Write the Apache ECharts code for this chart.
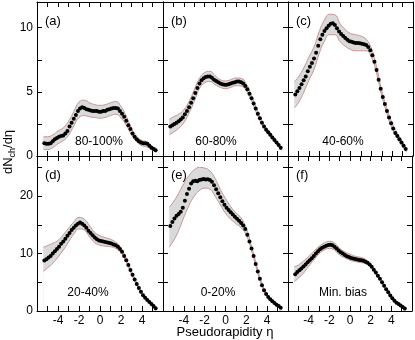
<!DOCTYPE html>
<html>
<head>
<meta charset="utf-8">
<script src="https://cdn.jsdelivr.net/npm/echarts@6/dist/echarts.min.js"></script>
<style>
  html, body { margin: 0; padding: 0; background: #fff; }
  #chart { width: 415px; height: 340px; }
</style>
</head>
<body>
<div id="chart"></div>
<script>
// pseudorapidity of the measured points
const eta = [-5.3, -5.1, -4.9, -4.7, -4.5, -4.3, -4.1, -3.9, -3.7, -3.5, -3.3, -3.1, -2.9, -2.7, -2.5, -2.3, -2.1, -1.9,
  -1.7, -1.5, -1.3, -1.1, -0.9, -0.7, -0.5, -0.3, -0.1, 0.1, 0.3, 0.5, 0.7, 0.9, 1.1, 1.3, 1.5, 1.7, 1.9,
  2.1, 2.3, 2.5, 2.7, 2.9, 3.1, 3.3, 3.5, 3.7, 3.9, 4.1, 4.3, 4.5, 4.7, 4.9, 5.1, 5.3];

// dNch/deta per centrality class
const dnA = [1.0, 0.95, 0.95, 1.0, 1.15, 1.3, 1.4, 1.5, 1.55, 1.6, 1.75, 1.95, 2.3, 2.6, 2.9, 3.2, 3.5, 3.7,
  3.8, 3.75, 3.65, 3.6, 3.55, 3.5, 3.5, 3.5, 3.45, 3.45, 3.5, 3.5, 3.6, 3.65, 3.7, 3.75, 3.75, 3.7, 3.5,
  3.3, 3.05, 2.75, 2.4, 2.1, 1.75, 1.5, 1.3, 1.15, 1.05, 1.0, 1.0, 0.95, 0.8, 0.65, 0.55, 0.45];
const dnB = [2.3, 2.4, 2.5, 2.6, 2.7, 2.85, 3.0, 3.25, 3.5, 3.8, 4.15, 4.5, 4.9, 5.3, 5.65, 5.9, 6.05, 6.15,
  6.2, 6.2, 6.1, 5.95, 5.85, 5.75, 5.65, 5.6, 5.55, 5.55, 5.6, 5.65, 5.7, 5.75, 5.8, 5.8, 5.75, 5.65, 5.45,
  5.2, 4.85, 4.5, 4.1, 3.7, 3.3, 2.95, 2.6, 2.3, 2.05, 1.85, 1.65, 1.45, 1.25, 1.05, 0.85, 0.65];
const dnC = [4.8, 5.05, 5.3, 5.6, 5.9, 6.2, 6.6, 6.95, 7.25, 7.6, 8.05, 8.6, 9.1, 9.45, 9.75, 9.95, 10.15, 10.3,
  10.35, 10.2, 9.95, 9.7, 9.5, 9.35, 9.2, 9.05, 8.95, 8.9, 8.85, 8.8, 8.8, 8.78, 8.75, 8.7, 8.65, 8.5, 8.25,
  7.85, 7.35, 6.7, 5.95, 5.25, 4.6, 4.05, 3.5, 3.0, 2.55, 2.15, 1.8, 1.55, 1.3, 1.05, 0.8, 0.55];
const dnD = [8.8, 9.0, 9.3, 9.6, 10.0, 10.4, 10.8, 11.2, 11.7, 12.1, 12.6, 13.1, 13.6, 14.1, 14.5, 14.9, 15.2, 15.4,
  15.2, 14.9, 14.5, 14.0, 13.6, 13.2, 12.8, 12.5, 12.3, 12.2, 12.1, 12.0, 11.95, 11.85, 11.75, 11.6, 11.45, 11.2, 10.8,
  10.3, 9.6, 8.85, 8.0, 7.15, 6.3, 5.5, 4.7, 4.0, 3.35, 2.75, 2.3, 1.9, 1.55, 1.2, 0.85, 0.5];
const dnE = [14.8, 15.5, 16.1, 16.6, 16.9, 17.3, 18.0, 19.2, 20.4, 21.3, 22.2, 22.6, 22.7, 22.6, 22.8, 22.9, 23.0, 22.9,
  22.95, 22.8, 22.5, 21.9, 21.2, 20.5, 19.8, 19.1, 18.5, 18.0, 17.6, 17.2, 16.8, 16.4, 16.05, 15.7, 15.35, 14.9, 14.3,
  13.3, 12.1, 10.9, 9.6, 8.2, 6.9, 5.6, 4.5, 3.6, 2.95, 2.45, 2.05, 1.7, 1.4, 1.1, 0.85, 0.55];
const dnF = [6.4, 6.8, 7.1, 7.4, 7.75, 8.1, 8.5, 8.85, 9.2, 9.6, 10.0, 10.4, 10.75, 11.0, 11.2, 11.35, 11.5, 11.55,
  11.45, 11.2, 10.9, 10.55, 10.25, 10.0, 9.75, 9.55, 9.4, 9.25, 9.15, 9.05, 8.95, 8.9, 8.85, 8.75, 8.6, 8.4, 8.1,
  7.7, 7.2, 6.7, 6.15, 5.6, 5.0, 4.4, 3.8, 3.25, 2.7, 2.2, 1.8, 1.45, 1.2, 0.95, 0.7, 0.45];

// systematic error band (lower / upper edge)
const bandEta = [-5.4, -5, -4.5, -4, -3.5, -3, -2.5, -2, -1.5, -1, -0.5, 0, 0.5, 1, 1.5, 2, 2.5, 3, 3.5, 4, 4.5, 5, 5.4];
const loA = [0.5, 0.5, 0.65, 0.95, 1.2, 1.6, 2.35, 3.0, 3.15, 3.05, 3.0, 2.95, 3.0, 3.15, 3.25, 2.95, 2.4, 1.65, 1.1, 0.8, 0.7, 0.45, 0.3];
const hiA = [1.5, 1.5, 1.65, 1.95, 2.2, 2.7, 3.45, 4.2, 4.35, 4.15, 4.0, 3.95, 4.0, 4.15, 4.25, 3.85, 3.1, 2.15, 1.5, 1.2, 1.1, 0.75, 0.6];
const loB = [1.65, 1.85, 2.15, 2.6, 3.35, 4.25, 5.25, 5.7, 5.8, 5.55, 5.35, 5.25, 5.35, 5.48, 5.45, 5.1, 4.3, 3.3, 2.45, 1.8, 1.3, 0.83, 0.43];
const hiB = [2.85, 3.05, 3.25, 3.6, 4.25, 5.15, 6.05, 6.5, 6.6, 6.25, 5.95, 5.85, 5.95, 6.08, 6.05, 5.6, 4.7, 3.7, 2.75, 2.1, 1.6, 1.07, 0.67];
const loC = [3.75, 4.15, 4.95, 5.9, 6.75, 8.0, 8.95, 9.45, 9.45, 8.9, 8.55, 8.3, 8.2, 8.2, 8.2, 7.7, 6.45, 4.7, 3.3, 2.15, 1.35, 0.72, 0.3];
const hiC = [5.8, 6.15, 6.85, 7.7, 8.5, 9.7, 10.6, 11.05, 11.0, 10.3, 9.85, 9.55, 9.45, 9.35, 9.1, 8.4, 6.95, 5.1, 3.7, 2.55, 1.75, 1.08, 0.6];
const loD = [6.9, 7.5, 8.3, 9.4, 10.6, 12.0, 13.4, 14.3, 14.1, 12.9, 11.9, 11.45, 11.3, 11.2, 10.9, 10.2, 8.55, 6.4, 4.45, 2.8, 1.7, 0.8, 0.25];
const hiD = [11.1, 11.4, 11.8, 12.3, 13.3, 14.4, 15.5, 16.3, 16.0, 14.9, 13.7, 13.1, 12.8, 12.5, 12.0, 11.0, 9.15, 6.95, 4.95, 3.25, 2.1, 1.2, 0.6];
const loE = [11.1, 12.2, 14.0, 16.3, 18.4, 20.0, 21.0, 21.4, 21.2, 20.0, 18.5, 17.0, 16.0, 15.2, 14.5, 13.2, 10.5, 7.3, 4.3, 2.5, 1.5, 0.8, 0.3];
const hiE = [18.1, 19.0, 20.5, 22.2, 23.6, 24.6, 25.0, 24.9, 24.4, 23.1, 21.2, 19.6, 18.2, 17.1, 16.2, 14.4, 11.3, 7.9, 4.8, 2.9, 1.9, 1.1, 0.55];
const loF = [5.1, 5.7, 6.6, 7.8, 8.9, 9.95, 10.6, 10.9, 10.6, 9.75, 9.25, 8.85, 8.6, 8.45, 8.25, 7.6, 6.45, 5.05, 3.6, 2.25, 1.3, 0.65, 0.3];
const hiF = [7.7, 8.0, 8.7, 9.5, 10.4, 11.25, 11.85, 12.15, 11.85, 10.9, 10.3, 9.9, 9.55, 9.35, 9.0, 8.15, 6.95, 5.5, 4.0, 2.65, 1.6, 0.95, 0.55];

const tags = ['(a)', '(b)', '(c)', '(d)', '(e)', '(f)'];
const classes = ['80-100%', '60-80%', '40-60%', '20-40%', '0-20%', 'Min. bias'];
const dnSets = [dnA, dnB, dnC, dnD, dnE, dnF];
const loSets = [loA, loB, loC, loD, loE, loF];
const hiSets = [hiA, hiB, hiC, hiD, hiE, hiF];
const yMax = [12, 27];
const yStep = [2.5, 5];
const yLabelStep = [5, 10];
const yLabelMax = [10, 20];

// layout
const FONT = '"Liberation Sans", Arial, Helvetica, sans-serif';
const BAND = '#dadada';
const EDGE = '#c79393';
const colLeft = [37, 163, 288];
const colWidth = [126, 125, 125];
const rowTop = [2, 156];
const rowHeight = [154, 155];
const classX = [99, 216, 343, 88, 218, 343];
const classY = [142, 293];

const chart = echarts.init(document.getElementById('chart'));

const grid = [], xAxis = [], yAxis = [], series = [], graphic = [];

function tickStyle() {
  return { inside: true, length: 5, lineStyle: { color: '#000', width: 1 } };
}

for (let i = 0; i < 6; i++) {
  const r = Math.floor(i / 3), c = i % 3;
  grid.push({ left: colLeft[c], top: rowTop[r], width: colWidth[c], height: rowHeight[r] });

  ['bottom', 'top'].forEach(pos => {
    xAxis.push({
      gridIndex: i, type: 'value', position: pos, min: -6, max: 6, interval: 1, z: 10,
      axisLine: { onZero: false, lineStyle: { color: '#000', width: 1 } },
      axisTick: tickStyle(),
      axisLabel: {
        show: pos === 'bottom' && r === 1, margin: 4, fontSize: 12, color: '#000', fontFamily: FONT,
        formatter: v => (v % 2 === 0 && Math.abs(v) <= 4) ? String(v) : ''
      },
      splitLine: { show: false }
    });
  });
  ['left', 'right'].forEach(pos => {
    yAxis.push({
      gridIndex: i, type: 'value', position: pos, min: 0, max: yMax[r], interval: yStep[r], z: 10,
      axisLine: { onZero: false, lineStyle: { color: '#000', width: 1 } },
      axisTick: tickStyle(),
      axisLabel: {
        show: pos === 'left' && c === 0, margin: 4, fontSize: 12, color: '#000', fontFamily: FONT,
        formatter: v => (v % yLabelStep[r] === 0 && v <= yLabelMax[r]) ? String(v) : ''
      },
      splitLine: { show: false }
    });
  });

  const lo = loSets[i], hi = hiSets[i], dn = dnSets[i];
  // upper edge filled grey down to 0, lower edge filled white: leaves the band
  series.push({
    type: 'line', xAxisIndex: 2 * i, yAxisIndex: 2 * i, smooth: true, symbol: 'none', z: 2, silent: true,
    data: bandEta.map((e, k) => [e, hi[k]]),
    lineStyle: { color: EDGE, width: 1 },
    areaStyle: { color: BAND, opacity: 1 }
  });
  series.push({
    type: 'line', xAxisIndex: 2 * i, yAxisIndex: 2 * i, smooth: true, symbol: 'none', z: 3, silent: true,
    data: bandEta.map((e, k) => [e, lo[k]]),
    lineStyle: { color: EDGE, width: 1 },
    areaStyle: { color: '#fff', opacity: 1 }
  });
  series.push({
    type: 'scatter', xAxisIndex: 2 * i, yAxisIndex: 2 * i, z: 4, silent: true,
    symbolSize: 4,
    itemStyle: { color: '#000', opacity: 1 },
    data: eta.map((e, k) => [e, dn[k]])
  });

  graphic.push({
    type: 'text', x: colLeft[c] + 8, y: rowTop[r] + 19, z: 20,
    style: { text: tags[i], font: '13px ' + FONT, fill: '#000', verticalAlign: 'middle' }
  });
  graphic.push({
    type: 'text', x: classX[i], y: classY[r], z: 20,
    style: { text: classes[i], font: '12px ' + FONT, fill: '#000', align: 'center', verticalAlign: 'middle' }
  });
}

graphic.push({
  type: 'text', x: 225, y: 332, z: 20,
  style: { text: 'Pseudorapidity η', font: '13px ' + FONT, fill: '#000', align: 'center', verticalAlign: 'middle' }
});
graphic.push({
  type: 'text', x: 8, y: 152, z: 20, rotation: Math.PI / 2,
  style: {
    text: '{n|dN}{s|ch}{n|/dη}', align: 'center', verticalAlign: 'middle', fill: '#000',
    rich: {
      n: { fontSize: 13, fontFamily: FONT, fill: '#000', verticalAlign: 'bottom' },
      s: { fontSize: 9, fontFamily: FONT, fill: '#000', verticalAlign: 'bottom', padding: [0, 0, -3, 0] }
    }
  }
});

chart.setOption({
  animation: false,
  grid, xAxis, yAxis, series, graphic
});
</script>
</body>
</html>
